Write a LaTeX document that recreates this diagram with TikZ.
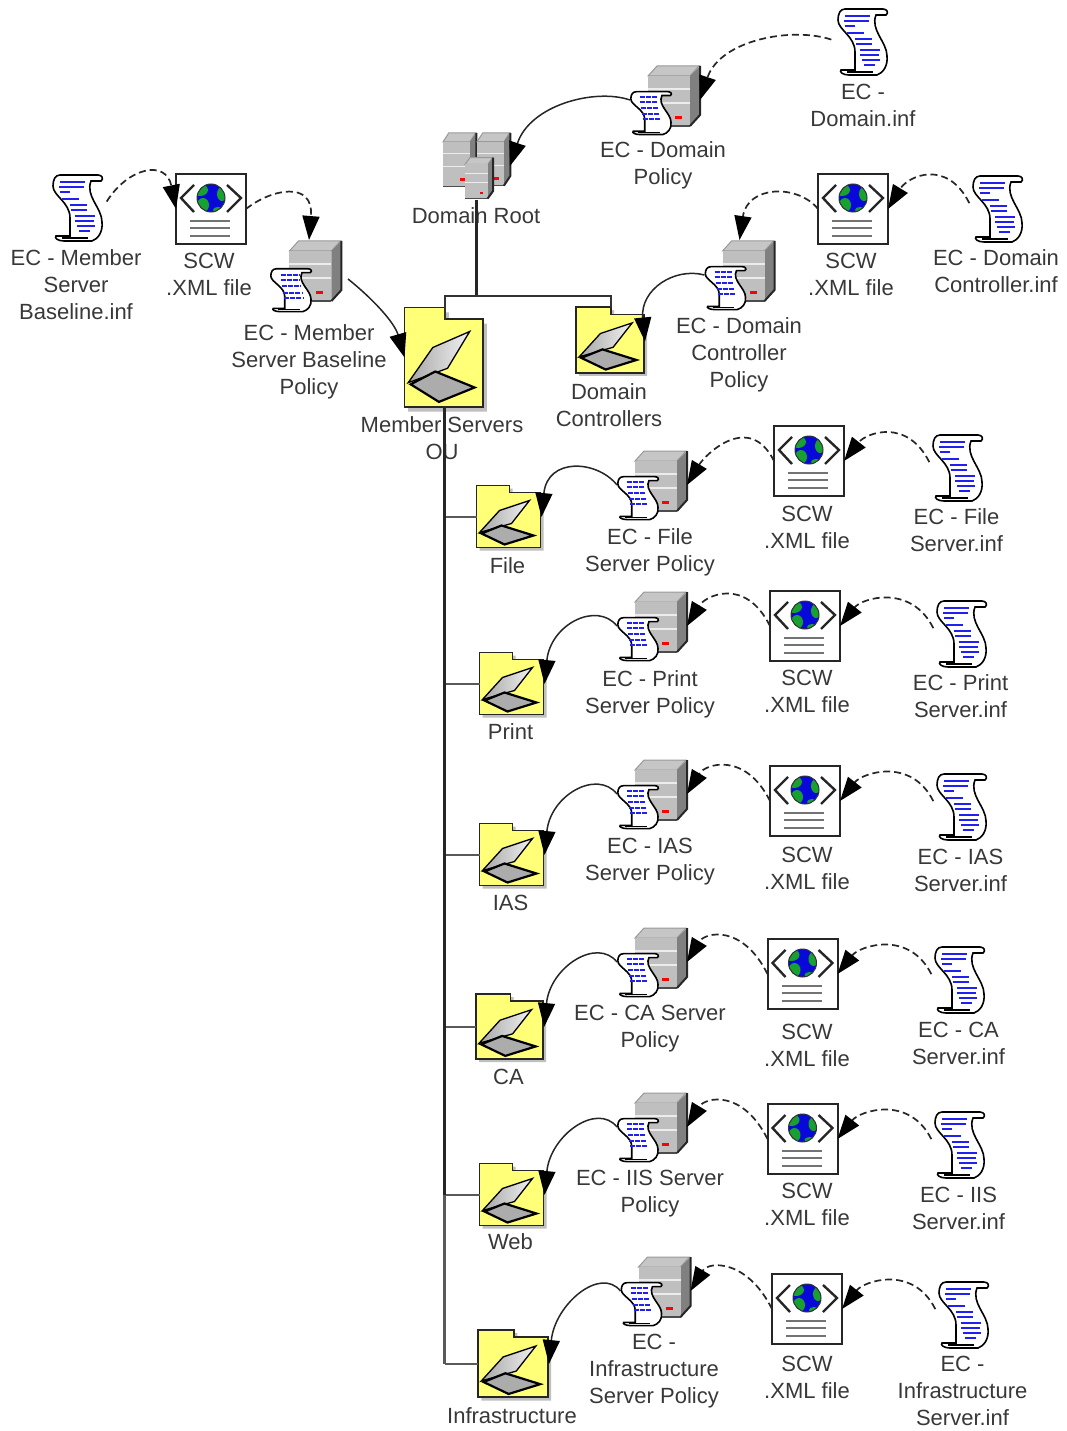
\documentclass[tikz,border=0pt]{standalone}
\usepackage{fontspec}
\setmainfont{Liberation Sans}
\usetikzlibrary{arrows.meta}
\definecolor{folderyellow}{HTML}{FFFF78}
\definecolor{scrollblue}{HTML}{2020F0}
\definecolor{globeblue}{HTML}{0808D8}
\definecolor{globegreen}{HTML}{18A030}
\tikzstyle{icon} = [inner sep=0pt,outer sep=0pt]
\tikzstyle{infbox} = [icon,minimum width=51pt,minimum height=67pt]
\tikzstyle{scwbox} = [icon,minimum width=70pt,minimum height=70pt]
\tikzstyle{policybox} = [icon,minimum width=70pt,minimum height=70pt]
\tikzstyle{txt} = [align=center,font=\fontsize{22}{27}\selectfont,text=black!78]
\tikzstyle{arrow} = [line width=1.5pt,black!85,-{Triangle[length=24pt,width=17pt,color=black]}]
\tikzstyle{dasharrow} = [arrow,line width=1.7pt,dash pattern=on 7pt off 4pt]
\tikzstyle{trunk} = [line width=3pt,black!85]
\tikzstyle{branch} = [line width=2.3pt,black!65]
\tikzset{
  folderbox/.style={icon,minimum width=#1*65pt,minimum height=#1*63pt},
  pics/scrollbody/.style={code={
    \draw[line width=1.6pt,fill=white] (8,1) -- (46,1) .. controls (50,1) and (52,5) .. (49,7) -- (39,7)
      .. controls (33,22) and (50,34) .. (50,48) .. controls (51,58) and (46,65) .. (40,67) -- (12,67)
      .. controls (6,67) and (2,64) .. (4,62) -- (18,62) -- (18,44)
      .. controls (18,28) and (1,22) .. (1,12) .. controls (1,6) and (3,1) .. (8,1) -- cycle;
    \draw[line width=1.3pt] (10,64) -- (36,64);
  }},
  pics/scrollinf/.style={code={
    \pic at (0,0) {scrollbody};
    \foreach \xa/\xb/\yy in {8/33/8,7/32/13,8/18/18,10/27/25,18/35/31,19/35/36,23/43/42,23/42/47,25/43/52,27/38/57}
      \draw[scrollblue,line width=2pt] (\xa,\yy) -- (\xb,\yy);
  }},
  pics/serverbody/.style={code={
    \draw[line width=1pt,gray!80,fill=gray!45] (0,11) -- (9,1) -- (51,1) -- (42,11) -- cycle;
    \fill[gray] (42,11) -- (52,1) -- (52,50) -- (42,61) -- cycle;
    \fill[gray!50] (0,11) rectangle (42,61);
    \draw[gray!15,line width=1.2pt] (0,24) -- (42,24) (0,38) -- (42,38);
    \draw[line width=1.2pt,black!70] (42,61) -- (0,61);
    \draw[line width=2pt,black!85] (52,1) -- (52,50) -- (42,61);
    \fill[red] (27,51) rectangle (34,54);
  }},
  pics/policyicon/.style={code={
    \pic at (18,0) {serverbody};
    \pic[xscale=.82,yscale=.65] at (0,26) {scrollbody};
    \foreach \yy/\xa in {6/10,11/10,17/11,23/12,28/13}
      \draw[scrollblue,line width=2pt,dash pattern=on 5pt off 1.2pt] (\xa,26+\yy) -- (\xa+18,26+\yy);
  }},
  pics/rooticon/.style={code={
    \pic[xscale=.64,yscale=.9] at (0,0) {serverbody};
    \pic[xscale=.64,yscale=.88] at (34,0) {serverbody};
    \pic[xscale=.54,yscale=.68] at (22,25) {serverbody};
  }},
  pics/scwicon/.style={code={
    \draw[line width=2pt,black!85,fill=white] (0,0) rectangle (70,70);
    \draw[line width=2.4pt,black!85] (18,11) -- (5,24) -- (18,38) (51,11) -- (65,24) -- (51,38);
    \fill[globeblue] (35,24) circle (14);
    \begin{scope}
      \clip (35,24) circle (14);
      \fill[globegreen] (24,16) ellipse (8 and 6);
      \fill[globegreen] (27,31) ellipse (6 and 7);
      \fill[globegreen] (46,20) ellipse (5 and 7);
      \fill[globegreen] (42,36) ellipse (5 and 3);
    \end{scope}
    \draw[black!80,line width=1pt] (35,24) circle (14);
    \foreach \yy in {47,54,62}
      \draw[black!55,line width=2.2pt] (14,\yy) -- (54,\yy);
  }},
  pics/foldericon/.style={code={
    \fill[gray!50] (3,3) -- (36,3) -- (36,10) -- (67,10) -- (67,65) -- (3,65) -- cycle;
    \draw[line width=1.7pt,black!85,fill=folderyellow] (0,0) -- (33,0) -- (33,7) -- (64,7) -- (64,62) -- (0,62) -- cycle;
    \draw[line width=1.3pt,left color=gray!70,right color=gray!10] (3,47) -- (23,25) -- (53,15) -- (35,38) -- cycle;
    \draw[line width=2.2pt,fill=gray!65] (5,48) -- (25,40) -- (57,50) -- (28,59) -- cycle;
  }},
}

\begin{document}
\begin{tikzpicture}[x=1pt,y=-1pt]
  \useasboundingbox (0,0) rectangle (1067,1431);

  %% top of the tree
  \node[icon,minimum width=67pt,minimum height=68pt] (root) at (476.5,166) {};
  \pic at (root.north west) {rooticon};
  \node[txt] (root-txt) at (476,216) {Domain Root};

  \node[policybox] (domain-policy) at (665,100) {};
  \pic at (domain-policy.north west) {policyicon};
  \node[txt] (domain-policy-txt) at (663,165) {EC - Domain\\Policy};
  \node[infbox] (domain-inf) at (862.5,41.5) {};
  \pic at (domain-inf.north west) {scrollinf};
  \node[txt] (domain-inf-txt) at (863,105) {EC -\\Domain.inf};

  \draw[arrow] (domain-policy.west) .. controls +(-35,-12) and +(20,-61) .. (root.east);
  \draw[dasharrow,shorten <=6pt] (domain-inf.west) .. controls +(-45,-15) and +(20,-60) .. (domain-policy.east);

  %% member servers
  \node[icon,minimum width=80pt,minimum height=100pt] (member-folder) at (444.5,357.5) {};
  \pic[xscale=1.23,yscale=1.6] at (member-folder.north west) {foldericon};
  \node[txt] (member-folder-txt) at (442,438) {Member Servers\\OU};
  \node[icon,minimum width=78pt,minimum height=78pt] (member-policy) at (309,279) {};
  \pic[scale=1.08] at (member-policy.north west) {policyicon};
  \node[txt] (member-policy-txt) at (309,362) {EC - Member\\Server Baseline\\Policy};
  \node[scwbox] (member-scw) at (211,209) {};
  \pic at (member-scw.north west) {scwicon};
  \node[txt] (member-scw-txt) at (209,274) {SCW\\.XML file};
  \node[infbox] (member-inf) at (77.5,207.5) {};
  \pic at (member-inf.north west) {scrollinf};
  \node[txt] (member-inf-txt) at (76,285) {EC - Member\\Server\\Baseline.inf};

  \draw[dasharrow,shorten <=7pt] (member-inf.east) .. controls +(25,-40) and +(-10,-50) .. (member-scw.west);
  \draw[dasharrow] (member-scw.east) .. controls +(25,-20) and +(5,-60) .. (member-policy.north);
  \draw[arrow] (member-policy.east) .. controls +(25,20) and +(-10,-35) .. (member-folder.west);

  %% domain controllers
  \node[icon,minimum width=69pt,minimum height=69pt] (dc-folder) at (610.5,341.5) {};
  \pic[scale=1.06] at (dc-folder.north west) {foldericon};
  \node[txt] (dc-folder-txt) at (609,405) {Domain\\Controllers};
  \node[policybox] (dc-policy) at (739.5,275) {};
  \pic at (dc-policy.north west) {policyicon};
  \node[txt] (dc-policy-txt) at (739,355) {EC - Domain\\Controller\\Policy};
  \node[scwbox] (dc-scw) at (853,209) {};
  \pic at (dc-scw.north west) {scwicon};
  \node[txt] (dc-scw-txt) at (851,274) {SCW\\.XML file};
  \node[infbox] (dc-inf) at (997.5,208.5) {};
  \pic at (dc-inf.north west) {scrollinf};
  \node[txt] (dc-inf-txt) at (996,271) {EC - Domain\\Controller.inf};

  \draw[dasharrow,shorten <=6pt] (dc-inf.west) .. controls +(-25,-50) and +(20,-33) .. (dc-scw.east);
  \draw[dasharrow] (dc-scw.west) .. controls +(-20,-25) and +(8,-55) .. (dc-policy.north);
  \draw[arrow] (dc-policy.west) .. controls +(-30,-8) and +(-5,-52) .. (dc-folder.east);

  %% the six rows below member servers
  \foreach \rw/\fx/\fy/\fs/\fly/\ftxt/\px/\py/\plx/\ply/\ptxt/\sx/\sy/\sly/\ix/\iy/\ily/\itxt in {
    file/509/517/1/566/File/652/485/650/552/{EC - File\\Server Policy}/809/461/527/957.5/467.5/530/{EC - File\\Server.inf},
    print/512/684/1/732/Print/652/626/650/694/{EC - Print\\Server Policy}/805/626/691/961.5/633.5/696/{EC - Print\\Server.inf},
    ias/512/855/1/903/IAS/652/794/650/862/{EC - IAS\\Server Policy}/805/801/868/961.5/806.5/870/{EC - IAS\\Server.inf},
    ca/510/1027/1.05/1077/CA/652/962/650/1029/{EC - CA Server\\Policy}/802.5/974/1045/959.5/979.5/1043/{EC - CA\\Server.inf},
    web/512/1195/1/1242/Web/652/1127/650/1194/{EC - IIS Server\\Policy}/802.5/1139/1204/959.5/1144.5/1208/{EC - IIS\\Server.inf},
    infra/513.5/1364/1.09/1416/Infrastructure/655.5/1291/654/1371/{EC -\\Infrastructure\\Server Policy}/807/1309/1377/963.5/1314.5/1391/{EC -\\Infrastructure\\Server.inf}%
  }{
    \node[folderbox=\fs] (\rw-folder) at (\fx,\fy) {};
    \pic[scale=\fs] at (\rw-folder.north west) {foldericon};
    \node[txt] (\rw-folder-txt) at (\fx-1.5,\fly) {\ftxt};
    \node[policybox] (\rw-policy) at (\px,\py) {};
    \pic at (\rw-policy.north west) {policyicon};
    \node[txt] (\rw-policy-txt) at (\plx,\ply) {\ptxt};
    \node[scwbox] (\rw-scw) at (\sx,\sy) {};
    \pic at (\rw-scw.north west) {scwicon};
    \node[txt] (\rw-scw-txt) at (807,\sly) {SCW\\.XML file};
    \node[infbox] (\rw-inf) at (\ix,\iy) {};
    \pic at (\rw-inf.north west) {scrollinf};
    \node[txt] (\rw-inf-txt) at (\ix-1,\ily) {\itxt};
    \draw[dasharrow,shorten <=6pt] (\rw-inf.west) .. controls +(-25,-50) and +(22,-28) .. (\rw-scw.east);
    \draw[dasharrow] (\rw-scw.west) .. controls +(-25,-50) and +(18,-30) .. (\rw-policy.east);
    \draw[arrow] (\rw-policy.west) .. controls +(-20,-25) and +(6,-60) .. (\rw-folder.east);
    \draw[branch] (\rw-folder.west) -- (\rw-folder.west -| member-folder.south);
  }

  %% tree lines
  \coordinate (split) at (476.5,296);
  \coordinate (member-tab) at (444.5,320);
  \draw[trunk] (root.south) -- (split);
  \draw[line width=2pt,black!80] (member-tab) |- (split) -| (dc-folder.north);
  \draw[trunk] (member-folder.south) -- (member-folder.south |- web-folder.west);
  \draw[branch] (member-folder.south |- web-folder.west) -- (member-folder.south |- infra-folder.west);
\end{tikzpicture}
\end{document}
